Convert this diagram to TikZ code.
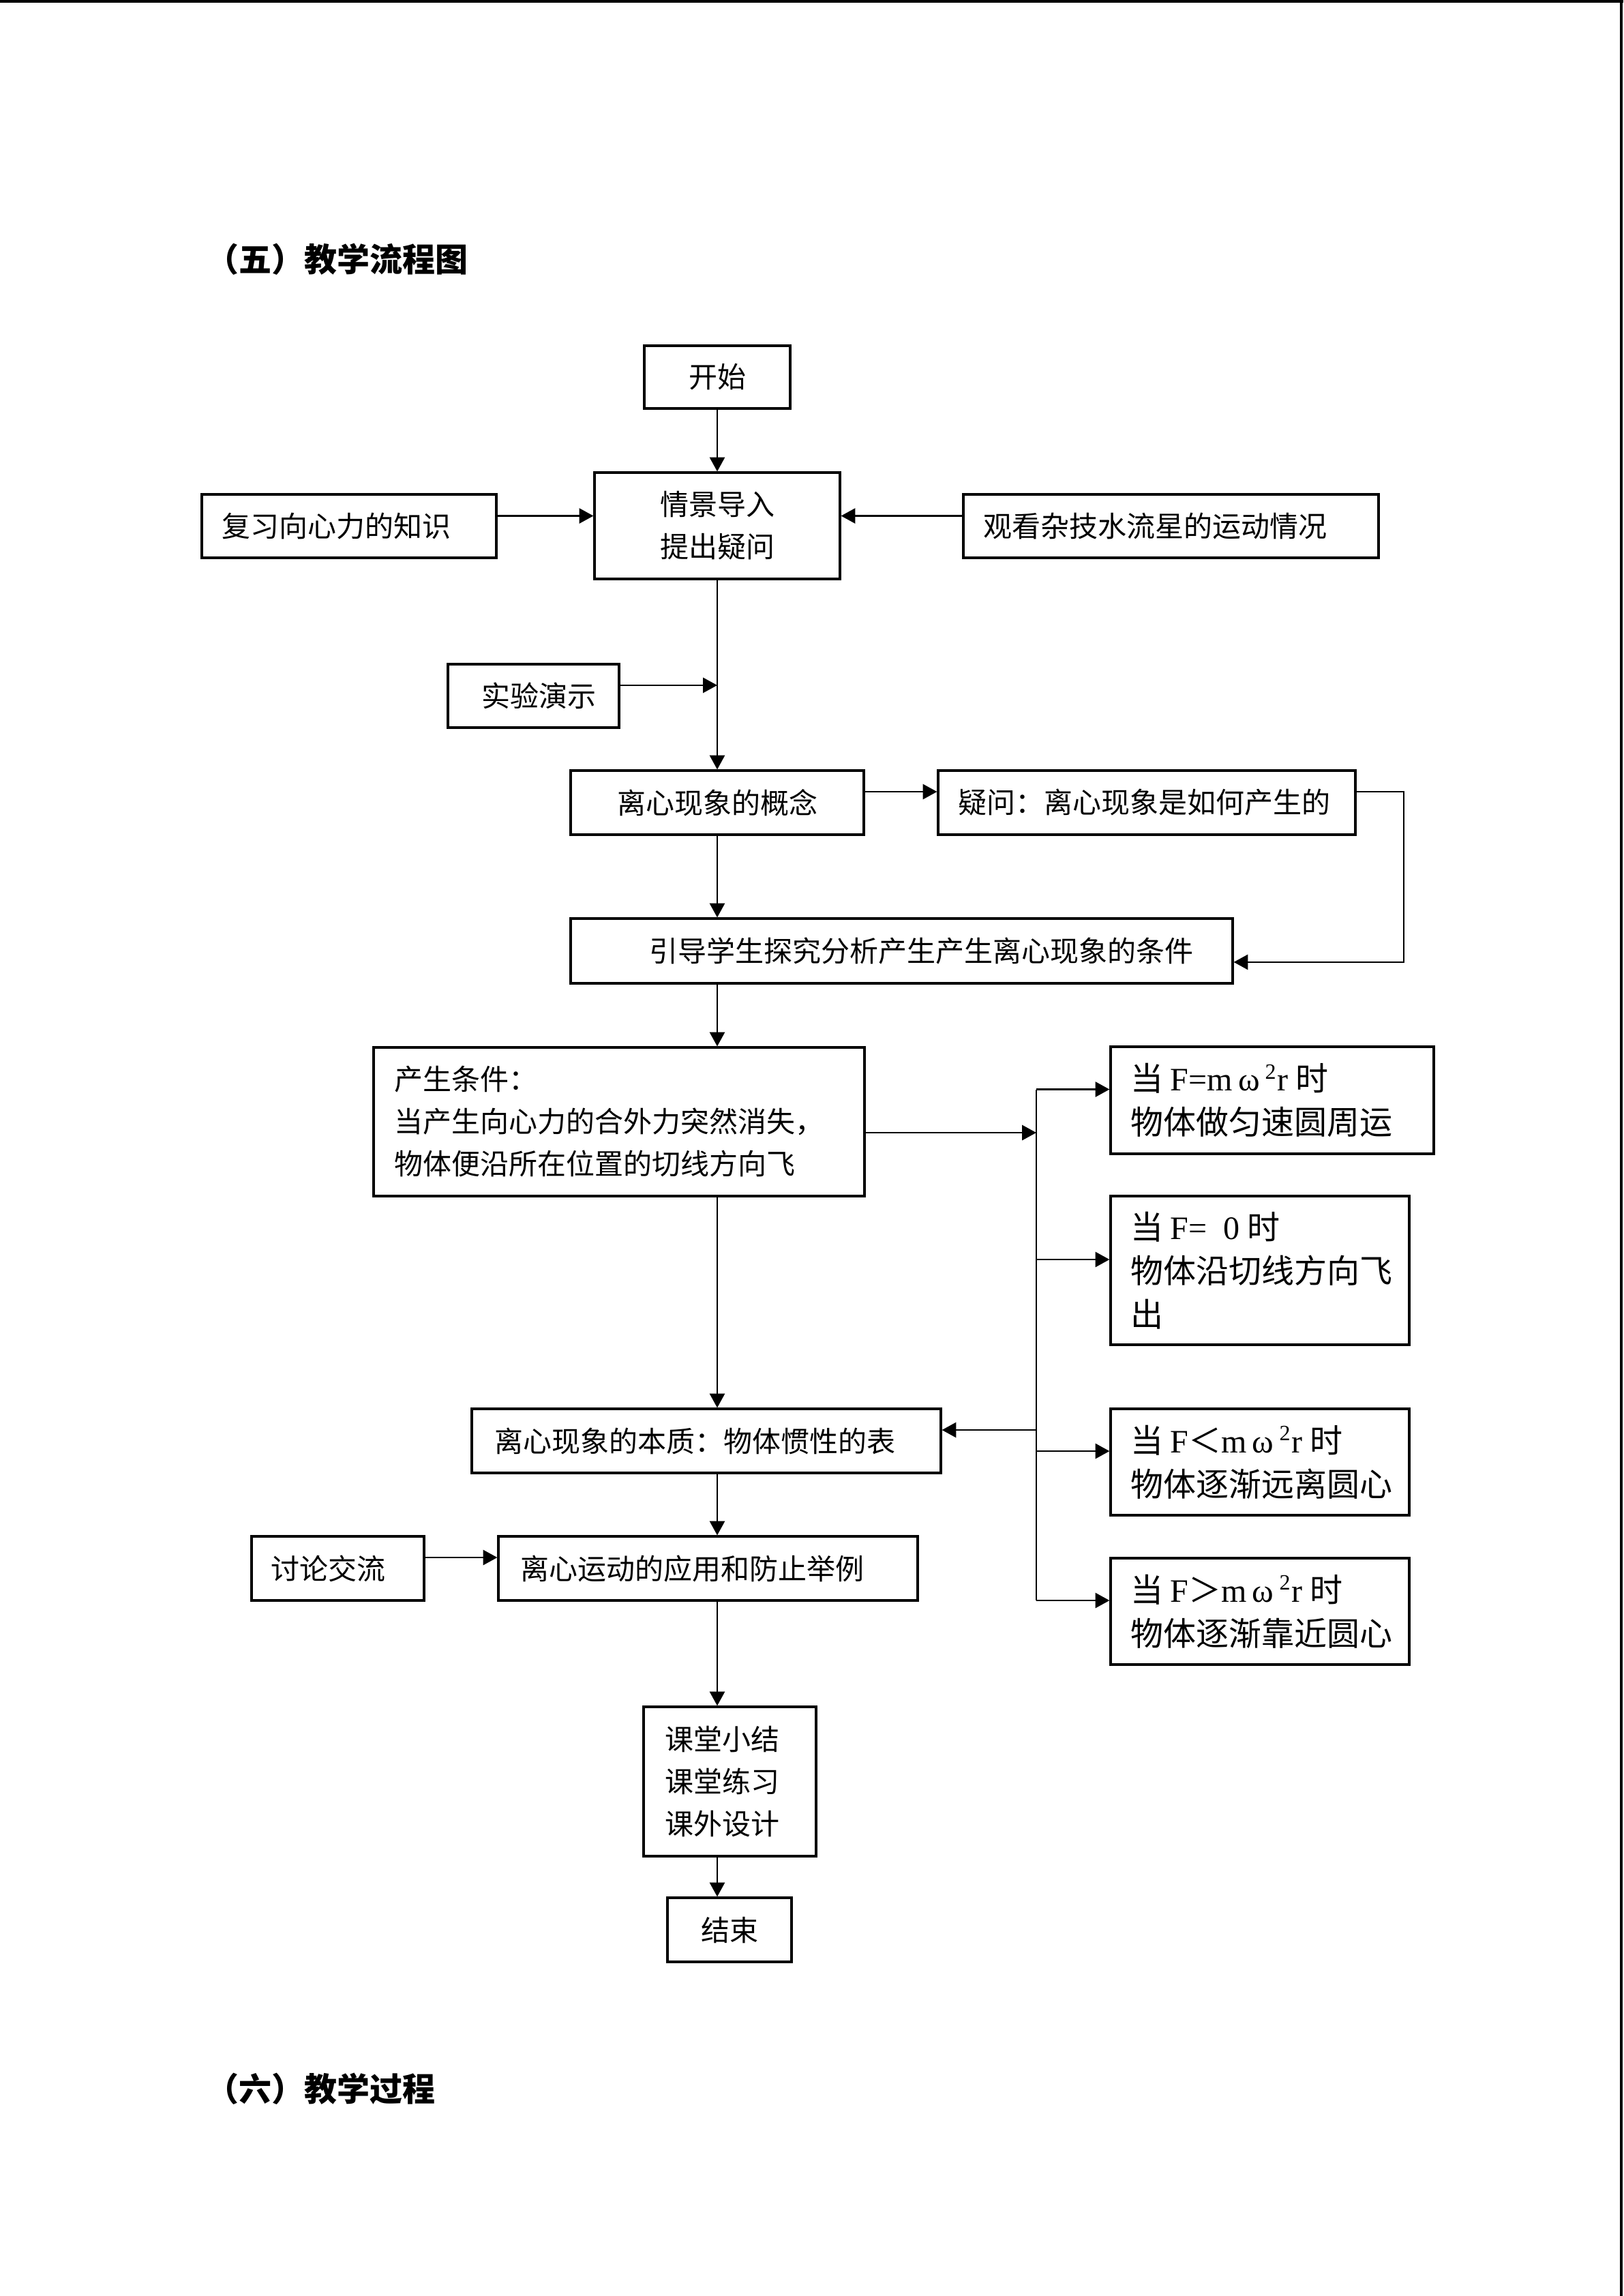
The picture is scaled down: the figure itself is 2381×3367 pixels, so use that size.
\documentclass[tikz,border=0pt]{standalone}
\usepackage{fontspec}
\setmainfont{Noto Sans CJK SC}
\newfontfamily\lat{Liberation Serif}
\usetikzlibrary{arrows.meta}
\begin{document}
\begin{tikzpicture}[x=0.25pt,y=-0.25pt,
  box/.style={draw, line width=0.8pt, inner sep=0pt},
  txt/.style={inner sep=0pt, align=left, font=\fontsize{10.5}{15.5}\selectfont},
  txtb/.style={inner sep=0pt, align=left, font=\fontsize{12}{16}\selectfont},
  ttl/.style={inner sep=0pt, anchor=west, font=\fontsize{12}{14}\selectfont\bfseries},
  conn/.style={line width=0.7pt, -{Triangle[length=5.2pt,width=5.5pt]}},
  plain/.style={line width=0.7pt}]
\useasboundingbox (0,0) rectangle (2381,3367);
% page edges
\fill (0,0) rectangle (2381,4);
\draw[line width=1pt] (2378,0) -- (2378,3367);

% titles
\node[ttl] (t5) at (302,380) {（五）教学流程图};
\node[ttl] (t6) at (302,3063) {（六）教学过程};

% boxes
\node[box, minimum width=53.5pt, minimum height=23pt] (start) at (1052,553) {};
\node[txt, align=center] (startt) at (start) {开始};

\node[box, minimum width=90pt, minimum height=39pt] (intro) at (1052,771) {};
\node[txt, align=center] (introt) at (intro) {情景导入\\提出疑问};

\node[box, minimum width=108pt, minimum height=23.25pt] (review) at (512,771.5) {};
\node[txt, anchor=west] (reviewt) at ([xshift=7.5pt]review.west) {复习向心力的知识};

\node[box, minimum width=152.25pt, minimum height=23.25pt] (watch) at (1717.5,771.5) {};
\node[txt, anchor=west] (watcht) at ([xshift=7.5pt]watch.west) {观看杂技水流星的运动情况};

\node[box, minimum width=62.75pt, minimum height=23.25pt] (exp) at (782.5,1020.5) {};
\node[txt, align=center] (expt) at ([xshift=2pt]exp) {实验演示};

\node[box, minimum width=107.5pt, minimum height=23.5pt] (concept) at (1052,1177) {};
\node[txt, align=center] (conceptt) at (concept) {离心现象的概念};

\node[box, minimum width=153pt, minimum height=23.5pt] (question) at (1682,1177) {};
\node[txt, anchor=west] (questiont) at ([xshift=7.5pt]question.west) {疑问：离心现象是如何产生的};

\node[box, minimum width=242.75pt, minimum height=23.75pt] (guide) at (1322.5,1394.5) {};
\node[txt, anchor=west] (guidet) at ([xshift=29pt]guide.west) {引导学生探究分析产生产生离心现象的条件};

\node[box, minimum width=180pt, minimum height=54.5pt] (cond) at (908,1645) {};
\node[txt, anchor=west] (condt) at ([xshift=7.75pt]cond.west) {产生条件：\\当产生向心力的合外力突然消失，\\物体便沿所在位置的切线方向飞};

\node[box, minimum width=118.5pt, minimum height=39.25pt] (r1) at (1866,1613.5) {};
\node[txtb, anchor=west] (r1t) at ([xshift=7.5pt]r1.west) {当 {\lat F=m\,ω\,\textsuperscript{2}r} 时\\物体做匀速圆周运};

\node[box, minimum width=109.5pt, minimum height=54.5pt] (r2) at (1848,1863) {};
\node[txtb, anchor=west] (r2t) at ([xshift=7.5pt]r2.west) {当 {\lat F=\enspace 0} 时\\物体沿切线方向飞\\出};

\node[box, minimum width=109.5pt, minimum height=39pt] (r3) at (1848,2144) {};
\node[txtb, anchor=west] (r3t) at ([xshift=7.5pt]r3.west) {当 {\lat F}＜{\lat m\,ω\,\textsuperscript{2}r} 时\\物体逐渐远离圆心};

\node[box, minimum width=109.5pt, minimum height=39pt] (r4) at (1848,2363) {};
\node[txtb, anchor=west] (r4t) at ([xshift=7.5pt]r4.west) {当 {\lat F}＞{\lat m\,ω\,\textsuperscript{2}r} 时\\物体逐渐靠近圆心};

\node[box, minimum width=172pt, minimum height=23.5pt] (essence) at (1036,2113) {};
\node[txt, anchor=west] (essencet) at ([xshift=8.5pt]essence.west) {离心现象的本质：物体惯性的表};

\node[box, minimum width=153.75pt, minimum height=23.5pt] (apply) at (1038.5,2300) {};
\node[txt, anchor=west] (applyt) at ([xshift=8.25pt]apply.west) {离心运动的应用和防止举例};

\node[box, minimum width=63.25pt, minimum height=23.5pt] (discuss) at (495.5,2300) {};
\node[txt, anchor=west] (discusst) at ([xshift=7.25pt]discuss.west) {讨论交流};

\node[box, minimum width=63.25pt, minimum height=54.75pt] (summary) at (1070.5,2612.5) {};
\node[txt, anchor=west] (summaryt) at ([xshift=8pt]summary.west) {课堂小结\\课堂练习\\课外设计};

\node[box, minimum width=45.5pt, minimum height=23.5pt] (end) at (1070,2830) {};
\node[txt, align=center] (endt) at (end) {结束};

% helper coordinates for connector columns
\coordinate (fb) at (2059,0);
\coordinate (br) at (1520,0);

% connectors
\draw[conn] (start.south) -- (intro.north);
\draw[conn] ([yshift=3.75pt]review.east) -- ([yshift=3.75pt]review.east -| intro.west);
\draw[conn] ([yshift=3.75pt]watch.west) -- ([yshift=3.75pt]watch.west -| intro.east);
\draw[conn] (intro.south) -- (concept.north);
\draw[conn] ([yshift=3.9pt]exp.east) -- ([yshift=3.9pt]exp.east -| intro.south);
\draw[conn] ([yshift=4pt]concept.east) -- ([yshift=4pt]concept.east -| question.west);
\draw[conn] ([yshift=4pt]question.east) -- ([yshift=4pt]question.east -| fb) -- ([yshift=-4.1pt]guide.east -| fb) -- ([yshift=-4.1pt]guide.east);
\draw[conn] (concept.south) -- (concept.south |- guide.north);
\draw[conn] (guide.south -| start) -- (cond.north -| start);
\draw[conn] ([yshift=-4pt]cond.east) -- ([yshift=-4pt]cond.east -| br);
\draw[plain] ([yshift=4pt]r1.west -| br) -- ([yshift=4pt]r4.west -| br);
\draw[conn] ([yshift=4pt]r1.west -| br) -- ([yshift=4pt]r1.west);
\draw[conn] ([yshift=4pt]r2.west -| br) -- ([yshift=4pt]r2.west);
\draw[conn] ([yshift=4pt]r3.west -| br) -- ([yshift=4pt]r3.west);
\draw[conn] ([yshift=4pt]r4.west -| br) -- ([yshift=4pt]r4.west);
\draw[conn] ([yshift=4pt]essence.east -| br) -- ([yshift=4pt]essence.east);
\draw[conn] (cond.south -| start) -- (essence.north -| start);
\draw[conn] (essence.south -| start) -- (apply.north -| start);
\draw[conn] ([yshift=4pt]discuss.east) -- ([yshift=4pt]discuss.east -| apply.west);
\draw[conn] (apply.south -| start) -- (summary.north -| start);
\draw[conn] (summary.south -| start) -- (end.north -| start);
\end{tikzpicture}
\end{document}
